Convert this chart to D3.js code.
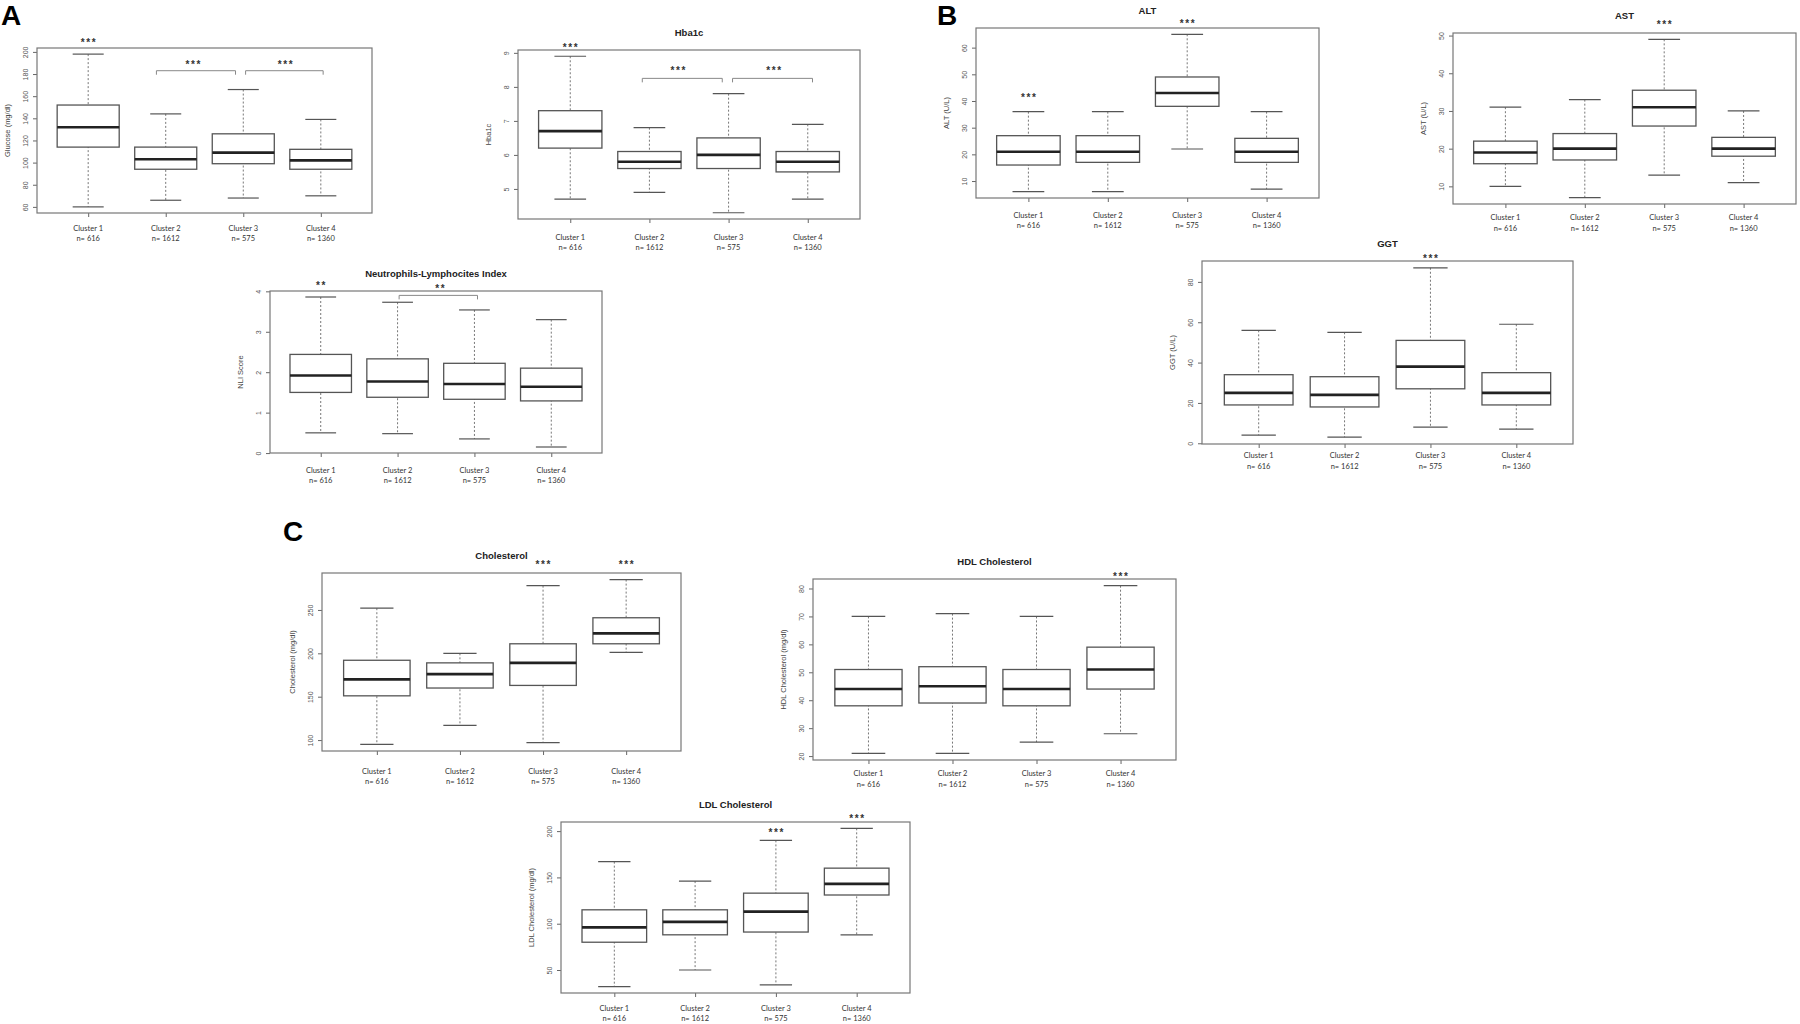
<!DOCTYPE html>
<meta charset="utf-8">
<script src="https://d3js.org/d3.v7.min.js"></script>
<style>
  body { margin: 0; background: #fff; }
  svg text { font-family: "Liberation Sans", Arial, sans-serif; }
</style>
<body>
<div id="chart"></div>
<script>
// cluster names and sizes, same for every panel
const clusterNames = ["Cluster 1", "Cluster 2", "Cluster 3", "Cluster 4"];
const clusterN = ["n= 616", "n= 1612", "n= 575", "n= 1360"];

// one row per cluster: [lower whisker, Q1, median, Q3, upper whisker]
const glucose = [[60, 114, 132, 152, 198], [66, 94, 103, 114, 144], [68, 99, 109, 126, 166], [70, 94, 102, 112, 139]];
const hba1c = [[4.7, 6.2, 6.7, 7.3, 8.9], [4.9, 5.6, 5.8, 6.1, 6.8], [4.3, 5.6, 6.0, 6.5, 7.8], [4.7, 5.5, 5.8, 6.1, 6.9]];
const nli = [[0.50, 1.50, 1.92, 2.44, 3.86], [0.48, 1.38, 1.77, 2.33, 3.73], [0.35, 1.33, 1.71, 2.22, 3.54], [0.15, 1.29, 1.64, 2.10, 3.30]];
const alt = [[6, 16, 21, 27, 36], [6, 17, 21, 27, 36], [22, 38, 43, 49, 65], [7, 17, 21, 26, 36]];
const ast = [[10, 16, 19, 22, 31], [7, 17, 20, 24, 33], [13, 26, 31, 35.5, 49], [11, 18, 20, 23, 30]];
const ggt = [[4, 19, 25, 34, 56], [3, 18, 24, 33, 55], [8, 27, 38, 51, 87], [7, 19, 25, 35, 59]];
const chol = [[95, 151, 170, 192, 252], [117, 160, 176, 189, 200], [97, 163, 189, 211, 278], [201, 211, 223, 241, 285]];
const hdl = [[21, 38, 44, 51, 70], [21, 39, 45, 52, 71], [25, 38, 44, 51, 70], [28, 44, 51, 59, 81]];
const ldl = [[32, 80, 96, 115, 167], [50, 88, 102, 115, 146], [34, 91, 113, 133, 190], [88, 131, 143, 160, 203]];

// y tick labels
const glucoseTicks = [60, 80, 100, 120, 140, 160, 180, 200];
const hba1cTicks = [5, 6, 7, 8, 9];
const nliTicks = [0, 1, 2, 3, 4];
const altTicks = [10, 20, 30, 40, 50, 60];
const astTicks = [10, 20, 30, 40, 50];
const ggtTicks = [0, 20, 40, 60, 80];
const cholTicks = [100, 150, 200, 250];
const hdlTicks = [20, 30, 40, 50, 60, 70, 80];
const ldlTicks = [50, 100, 150, 200];

// significance marks: [cluster position, y value, text]
const glucoseStars = [[1, 211, "***"], [2.35, 191, "***"], [3.54, 191, "***"]];
const hba1cStars = [[1, 9.23, "***"], [2.36, 8.56, "***"], [3.57, 8.56, "***"]];
const nliStars = [[1, 4.2, "**"], [2.55, 4.12, "**"]];
const altStars = [[1, 42, "***"], [3, 69.8, "***"]];
const astStars = [[3, 53.6, "***"]];
const ggtStars = [[3, 92.7, "***"]];
const cholStars = [[3, 305, "***"], [4, 305, "***"]];
const hdlStars = [[4, 85.1, "***"]];
const ldlStars = [[3, 200.5, "***"], [4, 216, "***"]];

// comparison brackets: [from, to, y value]
const glucoseBrackets = [[1.88, 2.9, 183], [3.03, 4.03, 183]];
const hba1cBrackets = [[1.91, 2.92, 8.25], [3.05, 4.06, 8.25]];
const nliBrackets = [[2.02, 3.04, 3.9]];

var svg = d3.select("#chart")
  .append("svg")
    .attr("width", 1800)
    .attr("height", 1024);

// frame = [left, top, right, bottom], labDy = offsets of the two x label lines
var panels = [
  {title: "", ylab: "Glucose (mg/dl)", stats: glucose, ticks: glucoseTicks, stars: glucoseStars, brackets: glucoseBrackets, frame: [37, 48, 372, 213], labDy: [15, 25]},
  {title: "Hba1c", ylab: "Hba1c", stats: hba1c, ticks: hba1cTicks, stars: hba1cStars, brackets: hba1cBrackets, frame: [518, 50, 860, 219], labDy: [18, 28]},
  {title: "Neutrophils-Lymphocites Index", ylab: "NLI Score", stats: nli, ticks: nliTicks, stars: nliStars, brackets: nliBrackets, frame: [270, 291, 602, 453], labDy: [17, 27]},
  {title: "ALT", ylab: "ALT (U/L)", stats: alt, ticks: altTicks, stars: altStars, brackets: [], frame: [976, 28, 1319, 198], labDy: [17, 27]},
  {title: "AST", ylab: "AST (U/L)", stats: ast, ticks: astTicks, stars: astStars, brackets: [], frame: [1453, 33, 1796, 204], labDy: [13, 24]},
  {title: "GGT", ylab: "GGT (U/L)", stats: ggt, ticks: ggtTicks, stars: ggtStars, brackets: [], frame: [1202, 261, 1573, 444], labDy: [11, 22]},
  {title: "Cholesterol", ylab: "Cholesterol (mg/dl)", stats: chol, ticks: cholTicks, stars: cholStars, brackets: [], frame: [322, 573, 681, 751], labDy: [20, 30]},
  {title: "HDL Cholesterol", ylab: "HDL Cholesterol (mg/dl)", stats: hdl, ticks: hdlTicks, stars: hdlStars, brackets: [], frame: [813, 579, 1176, 760], labDy: [13, 24]},
  {title: "LDL Cholesterol", ylab: "LDL Cholesterol (mg/dl)", stats: ldl, ticks: ldlTicks, stars: ldlStars, brackets: [], frame: [561, 822, 910, 993], labDy: [15, 25]}
];

function drawPanel(p) {
  var x0 = p.frame[0], y0 = p.frame[1], x1 = p.frame[2], y1 = p.frame[3];
  var lo = d3.min(p.stats, function(d) { return d[0]; }),
      hi = d3.max(p.stats, function(d) { return d[4]; }),
      pad = (hi - lo) * 0.04;

  // R style: 0.5..4.5 plus 4% either side
  var x = d3.scaleLinear().domain([0.34, 4.66]).range([x0, x1]);
  var y = d3.scaleLinear().domain([lo - pad, hi + pad]).range([y1, y0]);

  var g = svg.append("g");

  // y axis, labels turned like R's las=0
  var ya = g.append("g")
    .attr("transform", "translate(" + x0 + ",0)")
    .call(d3.axisLeft(y).tickValues(p.ticks).tickSize(4).tickFormat(function(d) { return d; }));
  ya.select(".domain").remove();
  ya.selectAll("line").attr("stroke", "#666");
  ya.selectAll("text")
    .attr("transform", "rotate(-90)")
    .attr("x", 0).attr("y", -9).attr("dy", 0)
    .attr("text-anchor", "middle")
    .attr("fill", "#555")
    .style("font-size", "7px")
    .style("font-family", "'Liberation Sans', Arial, sans-serif");

  // x tick marks only
  var xa = g.append("g")
    .attr("transform", "translate(0," + y1 + ")")
    .call(d3.axisBottom(x).tickValues([1, 2, 3, 4]).tickSize(4).tickFormat(""));
  xa.select(".domain").remove();
  xa.selectAll("line").attr("stroke", "#666");

  var boxes = g.selectAll(".bx").data(p.stats).enter().append("g");

  // dashed whiskers
  boxes.append("line")
    .attr("x1", function(d, i) { return x(i + 1); })
    .attr("x2", function(d, i) { return x(i + 1); })
    .attr("y1", function(d) { return y(d[4]); })
    .attr("y2", function(d) { return y(d[0]); })
    .attr("stroke", "#777").attr("stroke-width", 1).attr("stroke-dasharray", "2,2");

  // caps
  [0, 4].forEach(function(k) {
    boxes.append("line")
      .attr("x1", function(d, i) { return x(i + 0.8); })
      .attr("x2", function(d, i) { return x(i + 1.2); })
      .attr("y1", function(d) { return y(d[k]); })
      .attr("y2", function(d) { return y(d[k]); })
      .attr("stroke", "#555").attr("stroke-width", 1.2);
  });

  boxes.append("rect")
    .attr("x", function(d, i) { return x(i + 0.6); })
    .attr("width", function(d, i) { return x(i + 1.4) - x(i + 0.6); })
    .attr("y", function(d) { return y(d[3]); })
    .attr("height", function(d) { return y(d[1]) - y(d[3]); })
    .attr("fill", "#fff").attr("stroke", "#555").attr("stroke-width", 1.3);

  boxes.append("line")
    .attr("x1", function(d, i) { return x(i + 0.6); })
    .attr("x2", function(d, i) { return x(i + 1.4); })
    .attr("y1", function(d) { return y(d[2]); })
    .attr("y2", function(d) { return y(d[2]); })
    .attr("stroke", "#222").attr("stroke-width", 2.6);

  // plot frame
  g.append("rect")
    .attr("x", x0).attr("y", y0)
    .attr("width", x1 - x0).attr("height", y1 - y0)
    .attr("fill", "none").attr("stroke", "#777").attr("stroke-width", 1.2);

  // brackets
  p.brackets.forEach(function(b) {
    var by = y(b[2]);
    g.append("path")
      .attr("d", "M" + x(b[0]) + "," + (by + 4) + "V" + by + "H" + x(b[1]) + "V" + (by + 4))
      .attr("fill", "none").attr("stroke", "#888").attr("stroke-width", 1);
  });

  // stars
  p.stars.forEach(function(s) {
    g.append("text")
      .attr("x", x(s[0]) + 0.8)
      .attr("y", y(s[1]) + 5.8)
      .attr("text-anchor", "middle")
      .style("font-size", "10px")
      .style("font-weight", "bold")
      .style("letter-spacing", "1.6px")
      .attr("fill", "#333")
      .text(s[2]);
  });

  if (p.title) {
    g.append("text")
      .attr("x", (x0 + x1) / 2)
      .attr("y", y0 - 14)
      .attr("text-anchor", "middle")
      .style("font-size", "9.5px")
      .style("font-weight", "bold")
      .attr("fill", "#222")
      .text(p.title);
  }

  g.append("text")
    .attr("transform", "translate(" + (x0 - 27.5) + "," + ((y0 + y1) / 2) + ") rotate(-90)")
    .attr("text-anchor", "middle")
    .style("font-size", "7.5px")
    .attr("fill", "#444")
    .text(p.ylab);

  // cluster labels under the axis
  clusterNames.forEach(function(c, i) {
    g.append("text")
      .attr("x", x(i + 1))
      .attr("y", y1 + p.labDy[0] + 2.7)
      .attr("text-anchor", "middle")
      .style("font-size", "7.5px")
      .style("font-family", "Lato, 'Open Sans', sans-serif")
      .attr("fill", "#333")
      .text(c);
    g.append("text")
      .attr("x", x(i + 1))
      .attr("y", y1 + p.labDy[1] + 2.7)
      .attr("text-anchor", "middle")
      .style("font-size", "7.5px")
      .style("font-family", "Lato, 'Open Sans', sans-serif")
      .attr("fill", "#333")
      .text(clusterN[i]);
  });
}

panels.forEach(drawPanel);

// panel letters
[["A", 1, 25], ["B", 937, 25], ["C", 283, 541]].forEach(function(l) {
  svg.append("text")
    .attr("x", l[1]).attr("y", l[2])
    .style("font-size", "28px")
    .style("font-weight", "bold")
    .attr("fill", "#000")
    .text(l[0]);
});
</script>
</body>
